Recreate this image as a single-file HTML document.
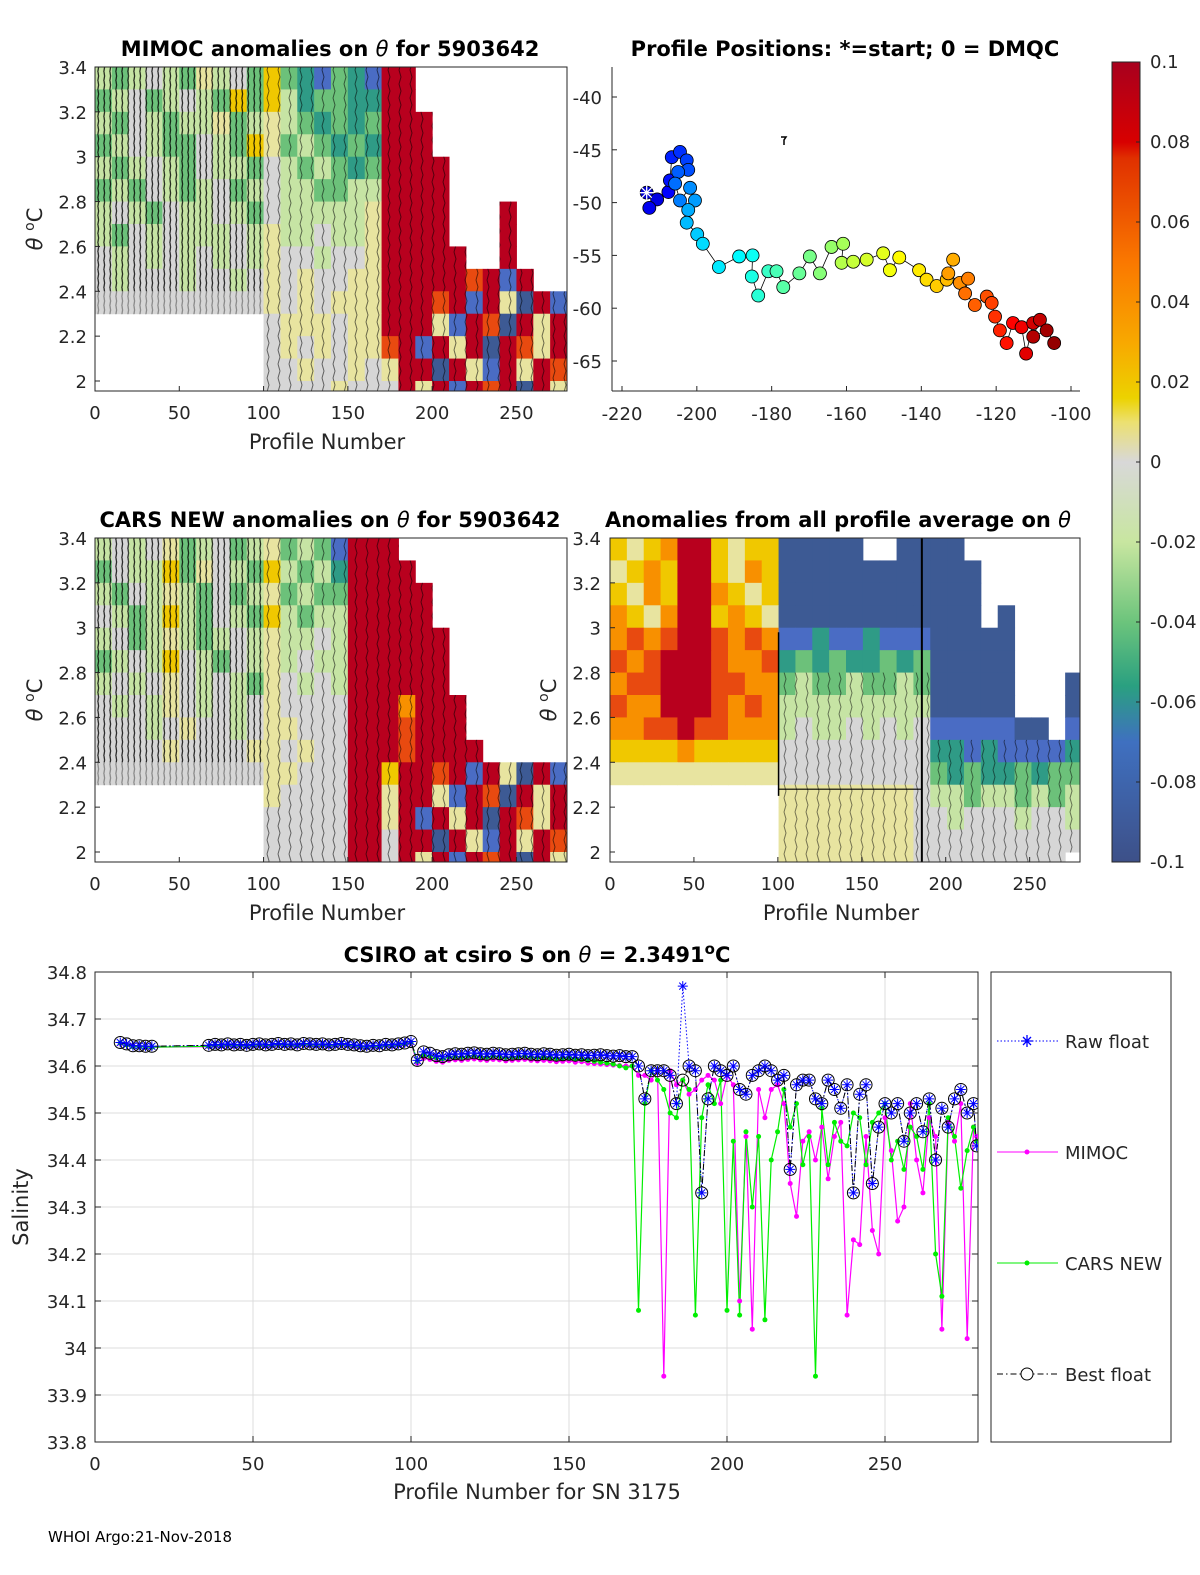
<!DOCTYPE html>
<html><head><meta charset="utf-8">
<style>
html,body{margin:0;padding:0;background:#fff;overflow:hidden;width:1200px;height:1575px;}
svg{display:block;font-family:"DejaVu Sans","Liberation Sans",sans-serif;}
.tk{font-size:18px;fill:#262626;}
.lab{font-size:21px;fill:#262626;}
.ttl{font-size:21px;font-weight:bold;fill:#000;}
</style></head>
<body>
<svg id="fig" width="1200" height="1575" viewBox="0 0 1200 1575" xmlns="http://www.w3.org/2000/svg">
<defs>
<pattern id="cont" width="6" height="9" patternUnits="userSpaceOnUse"><path d="M2 0 L2.6 4 L1.8 9" stroke="#000" stroke-width="1.3" fill="none"/></pattern>
<pattern id="cont2" width="11" height="14" patternUnits="userSpaceOnUse"><path d="M3 0 L5 7 L3 14" stroke="#000" stroke-width="1" fill="none"/></pattern>
<clipPath id="c1"><rect x="95" y="67" width="472" height="324"/></clipPath>
<clipPath id="c2"><rect x="95" y="538" width="472" height="324"/></clipPath>
<clipPath id="c3"><rect x="610" y="538" width="470" height="324"/></clipPath>
<clipPath id="c4"><rect x="95" y="972" width="883" height="470"/></clipPath>
<linearGradient id="cbg" x1="0" y1="0" x2="0" y2="1">
<stop offset="0" stop-color="#a8001e"/><stop offset="0.1" stop-color="#d80000"/><stop offset="0.12" stop-color="#e03000"/>
<stop offset="0.25" stop-color="#fa7800"/><stop offset="0.35" stop-color="#f8a800"/><stop offset="0.42" stop-color="#ecd200"/>
<stop offset="0.45" stop-color="#ece070"/><stop offset="0.5" stop-color="#d8d8d8"/><stop offset="0.6" stop-color="#c8e6a0"/>
<stop offset="0.7" stop-color="#6cc47c"/><stop offset="0.78" stop-color="#2aa080"/><stop offset="0.85" stop-color="#3f70c0"/>
<stop offset="1" stop-color="#3d5088"/></linearGradient>
</defs>

<text class="ttl" x="330" y="56" text-anchor="middle">MIMOC anomalies on <tspan font-style="italic" font-weight="normal">θ</tspan>  for 5903642</text>
<text class="ttl" x="845" y="56" text-anchor="middle">Profile Positions: *=start; 0 = DMQC</text>
<text class="ttl" x="330" y="527" text-anchor="middle">CARS NEW anomalies on <tspan font-style="italic" font-weight="normal">θ</tspan> for 5903642</text>
<text class="ttl" x="838" y="527" text-anchor="middle">Anomalies from all profile average on <tspan font-style="italic" font-weight="normal">θ</tspan></text>
<text class="ttl" x="537" y="962" text-anchor="middle">CSIRO at csiro S on <tspan font-style="italic" font-weight="normal">θ</tspan> = 2.3491<tspan dy="-8" font-size="15">o</tspan><tspan dy="8">C</tspan></text>

<g id="p1" clip-path="url(#c1)"></g>
<g id="p2" clip-path="url(#c2)"></g>
<g id="p3" clip-path="url(#c3)"></g>
<g id="axes"></g>
<g id="map"></g>
<g id="bot"></g>

<rect x="1112" y="62" width="28" height="800" fill="url(#cbg)" stroke="#262626" stroke-width="1"/>
<g id="cb"></g>

<rect x="991" y="972" width="180" height="470" fill="#fff" stroke="#262626" stroke-width="1"/>
<g>
<line x1="997" y1="1041" x2="1058" y2="1041" stroke="#0000ff" stroke-dasharray="1.5 2"/>
<path d="M1021 1041h12M1027 1035v12M1023 1037l8 8M1031 1037l-8 8" stroke="#0000ff" stroke-width="1.3"/>
<text class="tk" x="1065" y="1048">Raw float</text></g>
<g>
<line x1="997" y1="1152" x2="1058" y2="1152" stroke="#ff00ff"/><circle cx="1027" cy="1152" r="2.5" fill="#ff00ff"/>
<text class="tk" x="1065" y="1159">MIMOC</text></g>
<g>
<line x1="997" y1="1263" x2="1058" y2="1263" stroke="#00ee00"/><circle cx="1027" cy="1263" r="2.5" fill="#00ee00"/>
<text class="tk" x="1065" y="1270">CARS NEW</text></g>
<g>
<line x1="997" y1="1374" x2="1058" y2="1374" stroke="#000" stroke-dasharray="6 3 1.5 3"/><circle cx="1027" cy="1374" r="6" fill="#fff" stroke="#000"/>
<text class="tk" x="1065" y="1381">Best float</text></g>

<text x="48" y="1542" font-size="15" fill="#000">WHOI Argo:21-Nov-2018</text>
</svg>
<script>
// ---- heatmap data: rows top(3.35) -> bottom(1.95), 28 groups of 10 profiles, codes a(-0.1)..k(0.1)
const mimocRows = [
"edefedgefdhdcbdcbkk.........",
"defdefedhdhecddcckk.........",
"edfedeegdegedcdcdkkk........",
"defeddfedhgdedcdckkk........",
"edefedfeedfededcdkkkk.......",
"dedfedefdefeeddeekkkk.......",
"efedfeefedfeeeeegkkkk...k...",
"edfefeeefegeefeegkkkk...k...",
"fefefefefegffeffgkkkkk..k...",
"fefffeffefgfgffggkkkkkjkbk..",
"ffffffffffgfgfgggkkkjkbkgakb",
"..........fgggfggkkkgbkjakgk",
"..........fgfgfggjkbkgkakjgk",
"..........ffgffgfgkkakgbkgkj",
"..........ffffgfffkgkbkjkakg"];
const carsRows = [
"efefgdefdegdedbkkk..........",
"dfeehdgfedhedeckkkk.........",
"edfegedfdegdeddkkkkk........",
"fedehedfedhedeekkkkk........",
"efdegedefegeefekkkkkk.......",
"defehfedfegefeekkkkkk.......",
"efefgfefedgfefekkkkkk.......",
"fefegfefefgffffkkkikkk......",
"fffefgffefggfffkkkjkkk......",
"ffffgffffggfgffkkkjkkkk.....",
"ffffffffffggfffkkhkkjkbkgakb",
"..........gffffkkgkkgbkjakgk",
"..........fffffkkgkbkgkakjgk",
"..........fffffkkfkkakgbkgkj",
"..........fffffkkfkgkbkjkakg"];
const avgRows = [
"hghikkhghhaaaaa..aaaa.......",
"ghihkkhgihaaaaaaaaaaaa......",
"hgihkkihghaaaaaaaaaaaa......",
"ihgikkhihgaaaaaaaaaaaa.a....",
"ijijkkjijibbcbbcbbbaaaaa....",
"jijkkkjiijcdcdccdcdaaaaa....",
"ijjkkkjjiideddeddedaaaaa...a",
"jiikkkjijieeeeeeeeeaaaaa...a",
"iijjkjjiiiefeefefefbbbbbaa.b",
"hhhhihhhhhfffffffffccbcbbbbc",
"ggggggggggfffffffffdcdccdcdd",
"..........ggggggggfeedeedede",
"..........ggggggggffefffeffe",
"..........ggggggggffffffffff",
"..........ggggggggfffffffff."];
const rowTops = [3.4,3.3,3.2,3.1,3.0,2.9,2.8,2.7,2.6,2.5,2.4,2.3,2.2,2.1,2.0];
const cmap = {a:'#3d5a94',b:'#4a6cc4',c:'#2f9b86',d:'#6cc17a',e:'#c6e4a4',f:'#d6d6d6',g:'#e8e4a0',h:'#f0c800',i:'#f89000',j:'#e84a10',k:'#b8001e'};

// ---- map data (lon, lat) in profile order
const mapLon = [-213.4,-210.6,-212.7,-207.6,-207.2,-206.7,-204.5,-202.7,-202.3,-205.0,-205.8,-204.5,-201.8,-200.5,-202.3,-202.7,-199.9,-198.4,-194.1,-188.7,-185.1,-185.3,-183.6,-180.9,-178.7,-176.9,-172.6,-169.8,-167.1,-164.0,-160.9,-161.3,-158.2,-154.6,-150.2,-148.4,-145.9,-140.6,-138.6,-135.9,-133.2,-131.5,-132.8,-129.7,-127.5,-128.3,-125.7,-122.5,-121.2,-120.3,-119.0,-117.2,-115.5,-113.2,-112.0,-110.1,-108.3,-110.1,-106.5,-104.5];
const mapLat = [-49.06,-49.7,-50.5,-49.0,-47.9,-45.7,-45.2,-46.0,-46.9,-47.1,-48.2,-49.8,-48.6,-49.8,-50.7,-51.9,-53.0,-53.9,-56.1,-55.1,-55.0,-57.0,-58.8,-56.5,-56.5,-58.0,-56.7,-55.1,-56.7,-54.2,-53.9,-55.7,-55.6,-55.4,-54.8,-56.4,-55.2,-56.4,-57.3,-57.9,-57.3,-55.4,-56.7,-57.6,-57.2,-58.6,-59.7,-58.9,-59.5,-60.8,-62.1,-63.3,-61.4,-61.8,-64.3,-61.4,-61.1,-62.7,-62.1,-63.3];

// ---- salinity data
const earlyBest = [34.650,34.647,34.643,34.643,34.642,34.642,
34.644,34.646,34.645,34.647,34.645,34.646,34.644,34.646,34.647,34.645,34.646,34.648,34.646,34.647,34.645,34.648,34.647,34.646,34.647,34.645,34.646,34.648,34.646,34.645,34.643,34.642,34.644,34.643,34.646,34.645,34.647,34.649,
34.652,34.612,34.630,34.627,34.622,34.620,34.624,34.626,34.625,34.627,34.628,34.626,34.625,34.627,34.626,34.624,34.625,34.626,34.627,34.625,34.624,34.626,34.625,34.623,34.624,34.625,34.623,34.624,34.622,34.623,34.624,34.622,34.621,34.622,34.620];
const earlyMimoc = [34.648,34.646,34.643,34.641,34.640,34.640,
34.641,34.643,34.642,34.644,34.642,34.643,34.641,34.643,34.644,34.642,34.643,34.645,34.643,34.644,34.642,34.645,34.644,34.643,34.644,34.642,34.643,34.645,34.643,34.642,34.640,34.639,34.641,34.640,34.643,34.642,34.644,34.646,
34.648,34.606,34.616,34.614,34.610,34.608,34.612,34.613,34.612,34.614,34.615,34.613,34.612,34.614,34.613,34.611,34.612,34.613,34.614,34.612,34.611,34.612,34.611,34.609,34.610,34.611,34.608,34.609,34.606,34.605,34.604,34.603,34.602,34.601,34.600];
const earlyCars = [34.649,34.645,34.641,34.641,34.640,34.640,
34.642,34.644,34.643,34.645,34.643,34.644,34.642,34.644,34.645,34.643,34.644,34.646,34.644,34.645,34.643,34.646,34.645,34.644,34.645,34.643,34.644,34.646,34.644,34.643,34.641,34.640,34.642,34.641,34.644,34.643,34.645,34.647,
34.650,34.610,34.624,34.621,34.617,34.615,34.619,34.620,34.619,34.621,34.622,34.620,34.619,34.621,34.620,34.618,34.619,34.620,34.621,34.619,34.618,34.619,34.618,34.616,34.617,34.618,34.615,34.614,34.612,34.610,34.608,34.606,34.604,34.600,34.596];
const lateProfiles = [170,172,174,176,178,180,182,184,186,188,190,192,194,196,198,200,202,204,206,208,210,212,214,216,218,220,222,224,226,228,230,232,234,236,238,240,242,244,246,248,250,252,254,256,258,260,262,264,266,268,270,272,274,276,278,279];
const lateBest = [34.62,34.60,34.53,34.59,34.59,34.59,34.58,34.52,34.57,34.60,34.59,34.33,34.53,34.60,34.59,34.58,34.60,34.55,34.54,34.58,34.59,34.60,34.59,34.57,34.58,34.38,34.56,34.57,34.57,34.53,34.52,34.57,34.55,34.51,34.56,34.33,34.54,34.56,34.35,34.47,34.52,34.50,34.52,34.44,34.50,34.52,34.46,34.53,34.40,34.51,34.47,34.53,34.55,34.50,34.52,34.43];
const lateRaw = [34.62,34.60,34.53,34.59,34.59,34.59,34.58,34.52,34.77,34.60,34.59,34.33,34.53,34.60,34.59,34.58,34.60,34.55,34.54,34.58,34.59,34.60,34.59,34.57,34.58,34.38,34.56,34.57,34.57,34.53,34.52,34.57,34.55,34.51,34.56,34.33,34.54,34.56,34.35,34.47,34.52,34.50,34.52,34.44,34.50,34.52,34.46,34.53,34.40,34.51,34.47,34.53,34.55,34.50,34.52,34.43];
const lateMimoc = [34.60,34.58,34.58,34.57,34.59,33.94,34.59,34.56,34.57,34.54,34.55,34.57,34.58,34.57,34.52,34.58,34.56,34.10,34.45,34.04,34.55,34.49,34.55,34.56,34.52,34.35,34.28,34.44,34.46,34.40,34.47,34.36,34.45,34.48,34.07,34.23,34.22,34.45,34.25,34.20,34.49,34.42,34.27,34.30,34.52,34.40,34.33,34.49,34.45,34.04,34.48,34.44,34.52,34.02,34.47,34.45];
const lateCars = [34.60,34.08,34.52,34.59,34.57,34.55,34.50,34.49,34.57,34.55,34.07,34.49,34.56,34.52,34.57,34.08,34.44,34.07,34.46,34.30,34.45,34.06,34.40,34.46,34.55,34.47,34.52,34.39,34.45,33.94,34.51,34.39,34.48,34.44,34.43,34.50,34.49,34.39,34.48,34.50,34.52,34.40,34.44,34.38,34.47,34.45,34.38,34.52,34.20,34.11,34.49,34.45,34.34,34.42,34.47,34.44];
const salYTicks = [33.8,33.9,34,34.1,34.2,34.3,34.4,34.5,34.6,34.7,34.8];
const salXTicks = [0,50,100,150,200,250];
const thTicks = [2,2.2,2.4,2.6,2.8,3,3.2,3.4];
const lonTicks = [-220,-200,-180,-160,-140,-120,-100];
const latTicks = [-40,-45,-50,-55,-60,-65];
const cbTicks = [0.1,0.08,0.06,0.04,0.02,0,-0.02,-0.04,-0.06,-0.08,-0.1];

const NS='http://www.w3.org/2000/svg';
function E(tag,attrs,parent){const e=document.createElementNS(NS,tag);for(const k in attrs)e.setAttribute(k,attrs[k]);(parent||document.getElementById('axes')).appendChild(e);return e;}
function lin(d0,d1,r0,r1){return v=>r0+(v-d0)*(r1-r0)/(d1-d0);}

function heat(gid,rows,X,Y,ovl){
  const g=document.getElementById(gid);
  rows.forEach((row,r)=>{
    for(let c=0;c<row.length;c++){
      const ch=row[c]; if(ch==='.')continue;
      const x0=X(c*10),x1=X(c*10+10),y0=Y(rowTops[r]),y1=Y(rowTops[r]-0.1);
      const el=E('rect',{x:x0,y:y0,width:x1-x0+0.5,height:y1-y0+0.5,fill:cmap[ch]},g);
      
      
      const o=ovl?ovl(c,r):null;
      if(o){E('rect',{x:x0,y:y0,width:x1-x0+0.5,height:y1-y0+0.5,fill:'url(#'+o[0]+')',opacity:o[1]},g);}
    }
  });
}
function thAxis(x0,x1,y0,y1,labelX,withYlabel,ylx){
  const X=lin(0,280,x0,x1),Y=lin(3.4,2,y0,y0+314);
  E('rect',{x:x0,y:y0,width:x1-x0,height:y1-y0,fill:'none',stroke:'#262626','stroke-width':1});
  thTicks.forEach(t=>{const y=Y(t);E('line',{x1:x0,y1:y,x2:x0+5,y2:y,stroke:'#262626'});
    const tx=E('text',{x:labelX,y:y+7,'text-anchor':'end',class:'tk'});tx.textContent=(t===2||t===3)?String(t):t.toFixed(1);});
  [0,50,100,150,200,250].forEach(p=>{const x=X(p);E('line',{x1:x,y1:y1,x2:x,y2:y1-5,stroke:'#262626'});
    const tx=E('text',{x:x,y:y1+28,'text-anchor':'middle',class:'tk'});tx.textContent=p;});
  const xl=E('text',{x:(x0+x1)/2+ -4,y:y1+58,'text-anchor':'middle',class:'lab'});xl.textContent='Profile Number';
  
  if(withYlabel){const yl=E('text',{x:ylx,y:(y0+y1)/2,'text-anchor':'middle',class:'lab',transform:`rotate(-90 ${ylx} ${(y0+y1)/2})`});
    yl.innerHTML='<tspan font-style="italic">θ</tspan> <tspan dy="-8" font-size="14">o</tspan><tspan dy="8">C</tspan>';
    }
  return [X,Y];
}
const ovlAnom=(c,r)=> c<10 ? (rowTops[r]>2.45?['cont',0.8]:['cont',0.35]) : ['cont2',0.55];
const ovlAvg=(c,r)=> (c>=10&&c<=18&&rowTops[r]<=2.8) ? ['cont2',0.5] : (c>=19&&rowTops[r]<=2.5 ? ['cont2',0.5] : null);

// Panel 1
let [X1,Y1]=[lin(0,280,95,567),lin(3.4,2,67,381)];
heat('p1',mimocRows,X1,Y1,ovlAnom);
thAxis(95,567,67,391,87,true,42);
// Panel 2
let [X2,Y2]=[lin(0,280,95,567),lin(3.4,2,538,852)];
heat('p2',carsRows,X2,Y2,ovlAnom);
thAxis(95,567,538,862,87,true,42);
// Panel 3
let [X3,Y3]=[lin(0,280,610,1082),lin(3.4,2,538,852)];
heat('p3',avgRows,X3,Y3,ovlAvg);
const g3=document.getElementById('p3');
E('line',{x1:X3(100),y1:Y3(2.28),x2:X3(185),y2:Y3(2.28),stroke:'#000','stroke-width':1.2},g3);
E('line',{x1:X3(100),y1:Y3(2.98),x2:X3(100),y2:Y3(2.25),stroke:'#000','stroke-width':1.5},g3);
E('line',{x1:X3(185),y1:Y3(3.4),x2:X3(185),y2:Y3(1.95),stroke:'#000','stroke-width':2},g3);
thAxis(610,1080,538,862,601,true,556);

// Map
(function(){
  const g=document.getElementById('map');
  const X=lin(-220,-100,622,1071),Y=lin(-40,-65,97,361);
  E('line',{x1:612,y1:67,x2:612,y2:391,stroke:'#262626'},g);
  E('line',{x1:612,y1:391,x2:1080,y2:391,stroke:'#262626'},g);
  lonTicks.forEach(v=>{const x=X(v);E('line',{x1:x,y1:391,x2:x,y2:386,stroke:'#262626'},g);
    const t=E('text',{x:x,y:420,'text-anchor':'middle',class:'tk'},g);t.textContent=v;});
  latTicks.forEach(v=>{const y=Y(v);E('line',{x1:612,y1:y,x2:617,y2:y,stroke:'#262626'},g);
    const t=E('text',{x:602,y:y+7,'text-anchor':'end',class:'tk'},g);t.textContent=v;});
  let d='';mapLon.forEach((lo,i)=>{d+=(i?'L':'M')+X(lo).toFixed(1)+' '+Y(mapLat[i]).toFixed(1);});
  E('path',{d:d,fill:'none',stroke:'#000','stroke-width':0.8},g);
  const n=mapLon.length;
  function jet(t){const c=v=>Math.round(255*Math.max(0,Math.min(1,v)));
    return `rgb(${c(1.5-Math.abs(4*t-3))},${c(1.5-Math.abs(4*t-2))},${c(1.5-Math.abs(4*t-1))})`;}
  mapLon.forEach((lo,i)=>{const c=E('circle',{cx:X(lo),cy:Y(mapLat[i]),r:6.5,fill:jet(0.08+0.9*i/(n-1)),stroke:'#000','stroke-width':0.8},g);
    });
  const sx=X(mapLon[0]),sy=Y(mapLat[0]);
  E('path',{d:`M${sx-7} ${sy}h14M${sx} ${sy-7}v14M${sx-5} ${sy-5}l10 10M${sx+5} ${sy-5}l-10 10`,stroke:'#fff','stroke-width':1.3},g);
  E('path',{d:'M781 137h5l-2 3v5',stroke:'#000','stroke-width':1.5,fill:'none'},g);
})();

// Colorbar ticks
(function(){
  const g=document.getElementById('cb');const Y=lin(0.1,-0.1,62,862);
  cbTicks.forEach(v=>{const y=Y(v);E('line',{x1:1136,y1:y,x2:1140,y2:y,stroke:'#262626'},g);
    const t=E('text',{x:1150,y:y+6,class:'tk'},g);t.textContent=String(v);});
})();

// Salinity chart
(function(){
  const g=document.getElementById('bot');
  const X=lin(0,280,95,979.8),Y=lin(34.8,33.8,972,1442);
  E('rect',{x:95,y:972,width:883,height:470,fill:'#fff',stroke:'none'},g);
  salXTicks.forEach(p=>{const x=X(p);E('line',{x1:x,y1:972,x2:x,y2:1442,stroke:'#dcdcdc'},g);
    E('line',{x1:x,y1:1442,x2:x,y2:1436,stroke:'#262626'},g);E('line',{x1:x,y1:972,x2:x,y2:978,stroke:'#262626'},g);
    const t=E('text',{x:x,y:1470,'text-anchor':'middle',class:'tk'},g);t.textContent=p;});
  salYTicks.forEach(v=>{const y=Y(v);E('line',{x1:95,y1:y,x2:978,y2:y,stroke:'#dcdcdc'},g);
    E('line',{x1:95,y1:y,x2:101,y2:y,stroke:'#262626'},g);E('line',{x1:978,y1:y,x2:972,y2:y,stroke:'#262626'},g);
    const t=E('text',{x:87,y:y+7,'text-anchor':'end',class:'tk'},g);t.textContent=(v===34)?'34':v.toFixed(1);});
  E('rect',{x:95,y:972,width:883,height:470,fill:'none',stroke:'#262626'},g);
  const xl=E('text',{x:537,y:1499,'text-anchor':'middle',class:'lab'},g);xl.textContent='Profile Number for SN 3175';
  
  const yl=E('text',{x:28,y:1207,'text-anchor':'middle',class:'lab',transform:'rotate(-90 28 1207)'},g);yl.textContent='Salinity';
  
  const early=[8,10,12,14,16,18];for(let p=36;p<=168;p+=2)early.push(p);
  const P=early.concat(lateProfiles);
  const best=earlyBest.concat(lateBest),raw=earlyBest.concat(lateRaw),mim=earlyMimoc.concat(lateMimoc),cars=earlyCars.concat(lateCars);
  const cl=E('g',{'clip-path':'url(#c4)'},g);
  function path(vals,attrs){let d='';vals.forEach((v,i)=>{if(P[i]===undefined)return;d+=(d?'L':'M')+X(P[i]).toFixed(1)+' '+Y(v).toFixed(1);});
    const a=Object.assign({d:d,fill:'none'},attrs);return E('path',a,cl);}
  path(mim,{stroke:'#ff00ff','stroke-width':1.2});
  path(cars,{stroke:'#00ee00','stroke-width':1.2});
  mim.forEach((v,i)=>{const c=E('circle',{cx:X(P[i]),cy:Y(v),r:2.5,fill:'#ff00ff'},cl);});
  cars.forEach((v,i)=>{const c=E('circle',{cx:X(P[i]),cy:Y(v),r:2.5,fill:'#00ee00'},cl);});
  path(raw,{stroke:'#0000ff','stroke-width':1,'stroke-dasharray':'1.5 2'});
  path(best,{stroke:'#000','stroke-width':1,'stroke-dasharray':'6 3 1.5 3'});
  best.forEach((v,i)=>{const c=E('circle',{cx:X(P[i]),cy:Y(v),r:6,fill:'none',stroke:'#000','stroke-width':1},cl);});
  raw.forEach((v,i)=>{const x=X(P[i]),y=Y(v);
    const s=E('path',{d:`M${x-5} ${y}h10M${x} ${y-5}v10M${x-3.5} ${y-3.5}l7 7M${x+3.5} ${y-3.5}l-7 7`,stroke:'#0000ff','stroke-width':1},cl);
    });
})();
</script>
</body></html>
